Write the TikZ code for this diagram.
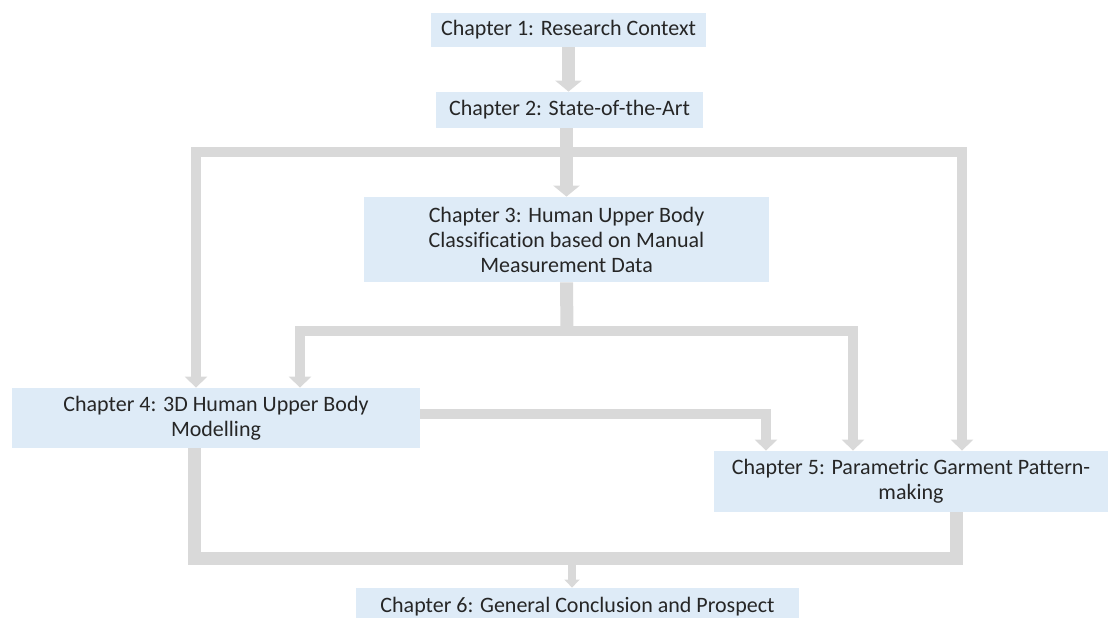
\documentclass[tikz,border=0pt]{standalone}
\usepackage{fontspec}
\setmainfont{Carlito}[Ligatures=CommonOff]
\usetikzlibrary{arrows.meta}

\definecolor{boxblue}{HTML}{DEEBF7}
\definecolor{flowgray}{HTML}{D9D9D9}

\tikzset{
	chapter/.style={fill=boxblue, text=black!85, align=center, inner sep=0pt,
		font=\fontsize{11}{12.5}\selectfont},
	flow/.style={draw=flowgray, line width=6.3pt, -{Triangle[width=13pt,length=5.5pt]}},
	branch/.style={draw=flowgray, line width=5pt, -{Triangle[width=11pt,length=5.5pt]}},
	trunk/.style={draw=flowgray, line width=6.5pt},
	small/.style={draw=flowgray, line width=4pt, -{Triangle[width=7.5pt,length=4pt]}},
}

\begin{document}
\begin{tikzpicture}[x=0.5pt, y=-0.5pt]

	% ---- frame

	\useasboundingbox (0,0) rectangle (1109,617);

	% ---- chapters

	\node[chapter, minimum width=137.5pt, minimum height=17pt] (ch1) at (568.5,30)
		{Chapter 1: Research Context};
	\node[chapter, minimum width=133.5pt, minimum height=18pt] (ch2) at (569.5,110)
		{Chapter 2: State-of-the-Art};
	\node[chapter, minimum width=202.5pt, minimum height=42.5pt] (ch3) at (566.5,239.5)
		{Chapter 3: Human Upper Body\\Classification based on Manual\\Measurement Data};
	\node[chapter, minimum width=204pt, minimum height=30pt] (ch4) at (216,418)
		{Chapter 4: 3D Human Upper Body\\Modelling};
	\node[chapter, minimum width=197pt, minimum height=30.5pt] (ch5) at (911,481.5)
		{Chapter 5: Parametric Garment Pattern-\\making};
	\node[chapter, minimum width=221.5pt, minimum height=19pt] (ch6) at (577.5,607)
		{Chapter 6: General Conclusion and Prospect};

	% ---- junctions

	\coordinate (j2) at (567,152);
	\coordinate (j3) at (567,331);
	\coordinate (j6) at (572,558);

	% ---- top of the flow

	\draw[flow] (ch1.south) -- (ch1.south |- ch2.north);
	\draw[flow] (ch3.north |- ch2.south) -- (ch3.north);

	\draw[branch] (j2) -| ([xshift=-10pt]ch4.north);
	\draw[branch] (j2) -| ([xshift=25.5pt]ch5.north);

	% ---- from chapter 3

	\draw[trunk] (ch3.south) -- (j3);
	\draw[branch] (j3) -| ([xshift=42pt]ch4.north);
	\draw[branch] (j3) -| ([xshift=-29pt]ch5.north);

	% ---- from chapter 4 to chapter 5

	\draw[branch] ([yshift=2pt]ch4.east) -| ([xshift=-72.5pt]ch5.north);

	% ---- into chapter 6

	\draw[trunk] ([xshift=-11pt]ch4.south) |- (j6) -| ([xshift=22.5pt]ch5.south);
	\draw[small] (j6) -- (j6 |- ch6.north);

\end{tikzpicture}
\end{document}
